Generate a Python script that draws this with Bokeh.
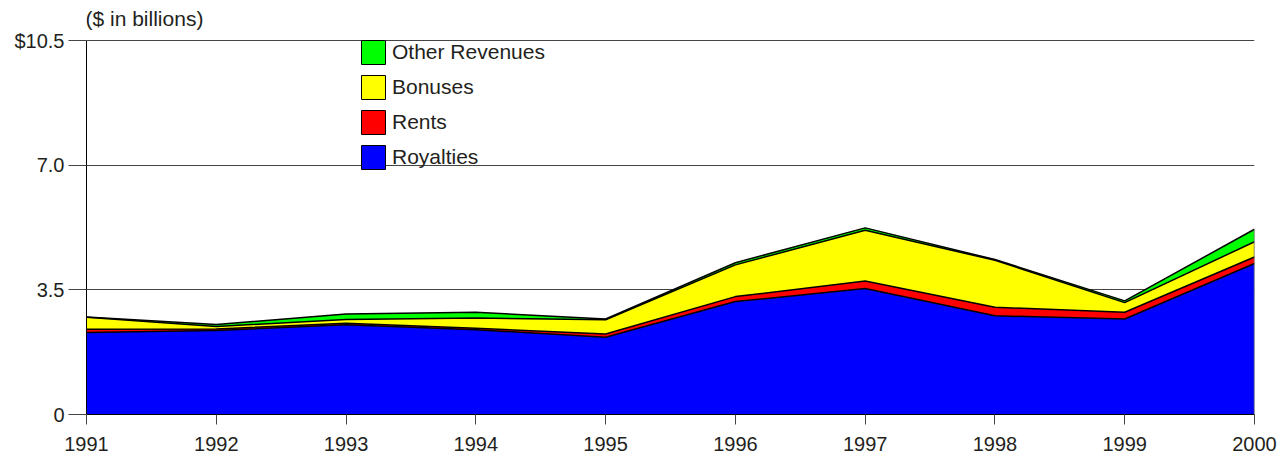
import numpy as np
from bokeh.plotting import figure
from bokeh.models import (ColumnDataSource, Legend, LegendItem, FixedTicker, Label, Range1d)
from bokeh.embed import file_html
from bokeh.resources import INLINE

years = [1991, 1992, 1993, 1994, 1995, 1996, 1997, 1998, 1999, 2000]
royalties = [2.30, 2.36, 2.52, 2.38, 2.17, 3.17, 3.54, 2.77, 2.68, 4.24]
rents = [0.09, 0.04, 0.04, 0.04, 0.09, 0.14, 0.21, 0.24, 0.19, 0.18]
bonuses = [0.34, 0.07, 0.11, 0.29, 0.40, 0.89, 1.42, 1.32, 0.27, 0.43]
other = [0.01, 0.06, 0.15, 0.16, 0.02, 0.06, 0.07, 0.02, 0.05, 0.35]

series_names = ["Royalties", "Rents", "Bonuses", "Other Revenues"]
series_colors = ["#0000FF", "#FF0000", "#FFFF00", "#00FF00"]
y_ticks = [0, 3.5, 7.0, 10.5]
y_tick_labels = ["0", "3.5", "7.0", "$10.5"]

FONT = "Liberation Sans"
TEXT = "#231f20"

source = ColumnDataSource(dict(year=years, royalties=royalties, rents=rents,
                               bonuses=bonuses, other=other))

# frame spans the full height above the x axis so the unit note can sit inside it
y_top = y_ticks[-1] * 414.0 / 374.0

p = figure(width=1282, height=454, output_backend="svg", toolbar_location=None,
           x_range=Range1d(years[0], years[-1]), y_range=Range1d(0, y_top),
           min_border_left=86, min_border_right=28, min_border_top=0,
           min_border_bottom=40)
p.outline_line_color = None
p.background_fill_color = "white"

keys = ["royalties", "rents", "bonuses", "other"]
p.varea_stack(stackers=keys, x="year", color=series_colors, source=source)

cum = np.zeros(len(years))
for arr in [royalties, rents, bonuses, other]:
    cum = cum + np.array(arr)
    p.line(years, list(cum), line_color="black", line_width=1.5)

# right edge of the stack
p.segment(x0=[years[-1]], y0=[0], x1=[years[-1]], y1=[float(cum[-1])],
          line_color="#666666", line_width=1.5)

# legend proxies (not drawn in the plot)
nan = float("nan")
proxies = {}
for name, col in zip(series_names, series_colors):
    proxies[name] = p.rect(x=[nan], y=[nan], width=1, height=1, fill_color=col,
                           line_color="black", line_width=1)

legend = Legend(items=[LegendItem(label=n, renderers=[proxies[n]]) for n in reversed(series_names)],
                location=(272, 242), orientation="vertical",
                glyph_width=30, glyph_height=30, label_height=30, spacing=5,
                padding=0, margin=0, label_standoff=4,
                label_text_font=FONT, label_text_font_size="21px",
                label_text_color=TEXT, border_line_color=None,
                background_fill_alpha=0)
p.add_layout(legend)

# axes
p.xaxis.ticker = FixedTicker(ticks=years)
p.xaxis.major_tick_out = 10
p.xaxis.major_tick_in = 0
p.xaxis.minor_tick_line_color = None
p.xaxis.axis_line_color = "black"
p.xaxis.major_tick_line_color = "#444444"
p.xaxis.major_label_text_font = FONT
p.xaxis.major_label_text_font_size = "20px"
p.xaxis.major_label_text_color = TEXT
p.xaxis.major_label_standoff = 12

p.yaxis.ticker = FixedTicker(ticks=y_ticks)
p.yaxis.bounds = (y_ticks[0], y_ticks[-1])
p.yaxis.major_label_overrides = {t: l for t, l in zip(y_ticks, y_tick_labels)}
p.yaxis.major_tick_out = 18
p.yaxis.major_tick_in = 0
p.yaxis.minor_tick_line_color = None
p.yaxis.axis_line_color = "black"
p.yaxis.major_tick_line_color = "#444444"
p.yaxis.major_label_text_font = FONT
p.yaxis.major_label_text_font_size = "20px"
p.yaxis.major_label_text_color = TEXT
p.yaxis.major_label_standoff = 4

p.xgrid.grid_line_color = None
p.ygrid.ticker = FixedTicker(ticks=y_ticks[1:])
p.ygrid.grid_line_color = "#444444"
p.ygrid.grid_line_width = 1.2
p.ygrid.level = "underlay"

p.add_layout(Label(x=years[0], y=y_ticks[-1], x_offset=-1, y_offset=22,
                   text="($ in billions)", text_font=FONT, text_font_size="21px",
                   text_color=TEXT, text_baseline="middle", text_align="left"))

open("out.html", "w").write(file_html(p, INLINE))
